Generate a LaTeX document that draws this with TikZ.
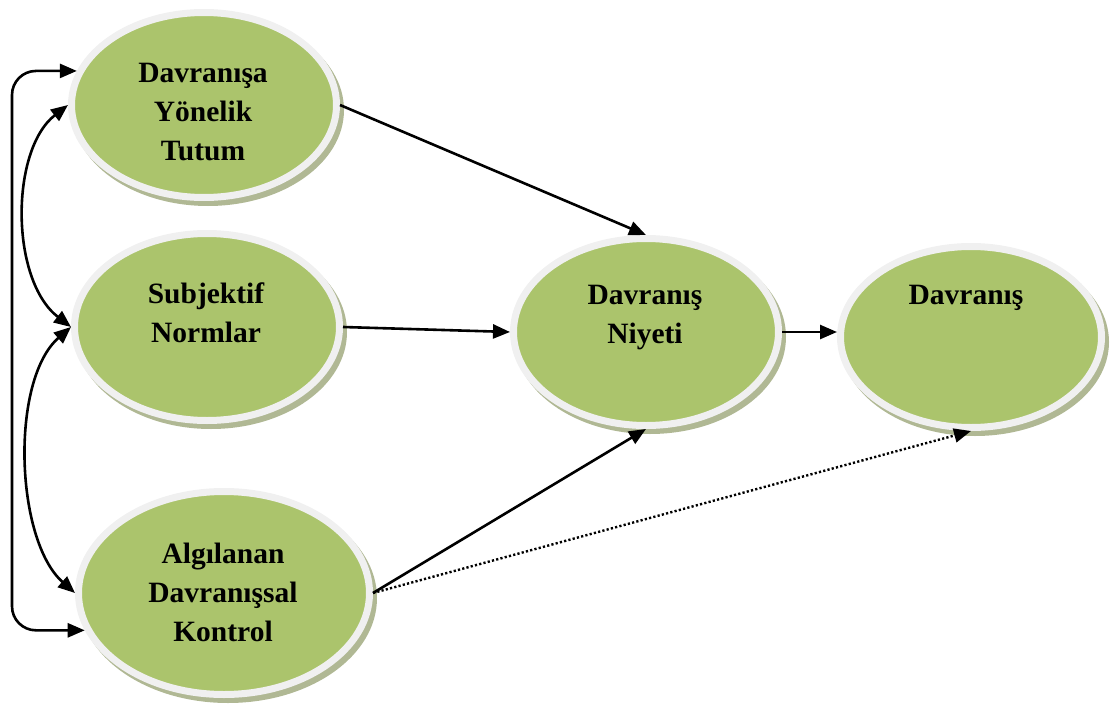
\documentclass[tikz,border=0pt]{standalone}
\usepackage{fontspec}
\setmainfont{Liberation Serif}
\usetikzlibrary{arrows.meta,shapes.geometric}
\definecolor{ovalfill}{RGB}{171,196,108}
\definecolor{ovalring}{RGB}{240,240,240}
\definecolor{ovalshade}{RGB}{176,184,148}
\tikzset{
  oval/.style={ellipse, draw=ovalring, line width=7pt, fill=ovalfill, inner sep=0pt},
  lbl/.style={align=center, font=\fontsize{29.5}{39}\selectfont\bfseries, inner sep=0pt},
  link/.style={line width=2.6pt, -{Triangle[length=17pt,width=14pt]}},
  twolink/.style={line width=2.6pt, {Triangle[length=17pt,width=14pt]}-{Triangle[length=17pt,width=14pt]}},
  weaklink/.style={line width=2.4pt, dash pattern=on 2.2pt off 2.2pt, -{Triangle[length=17pt,width=14pt]}}
}
% oval with a soft offset shadow: name, x, y, x radius, y radius (outer)
\newcommand\shadedoval[5]{%
  \fill[ovalshade] (#2+4,#3+5) ellipse [x radius=#4pt, y radius=#5pt];
  \node[oval, minimum width=2*#4pt-7pt, minimum height=2*#5pt-7pt] (#1) at (#2,#3) {};
}
\begin{document}
\begin{tikzpicture}[x=1pt, y=-1pt]
\useasboundingbox (0,0) rectangle (1112,704);

\shadedoval{tutum}{204}{105}{136}{96}
\shadedoval{norm}{207}{327}{136}{97}
\shadedoval{kontrol}{224}{593}{149}{105}
\shadedoval{niyet}{646}{332}{136}{97}
\shadedoval{davr}{971}{337}{134}{94}

\node[lbl] (tutumt) at (203,112) {Davranışa\\Yönelik\\Tutum};
\node[lbl] (normt) at (206,313) {Subjektif\\Normlar};
\node[lbl] (kontrolt) at (223,592) {Algılanan\\Davranışsal\\Kontrol};
\node[lbl] (niyett) at (645,318) {Davranış\\Niyeti};
\node[lbl] (davrt) at (966,298) {Davranış};

% paths into the intention and the behaviour
\draw[link] (tutum.east) -- (niyet.north);
\draw[link] (norm.east) -- (niyet.west);
\draw[link] (kontrol.east) -- (niyet.south);
\draw[link] (niyet.east) -- (niyet.east -| davr.west);
\draw[weaklink] (kontrol.east) -- (davr.south);

% correlations among the three predictors
\coordinate (lx) at (12,0);
\draw[twolink, rounded corners=24pt] (tutum.165) -- (tutum.165 -| lx) -- (kontrol.195 -| lx) -- (kontrol.195);
\draw[twolink] (tutum.west) .. controls (10,150) and (10,280) .. (norm.west);
\draw[twolink] (norm.west) .. controls (10,380) and (15,540) .. (kontrol.west);
\end{tikzpicture}
\end{document}
